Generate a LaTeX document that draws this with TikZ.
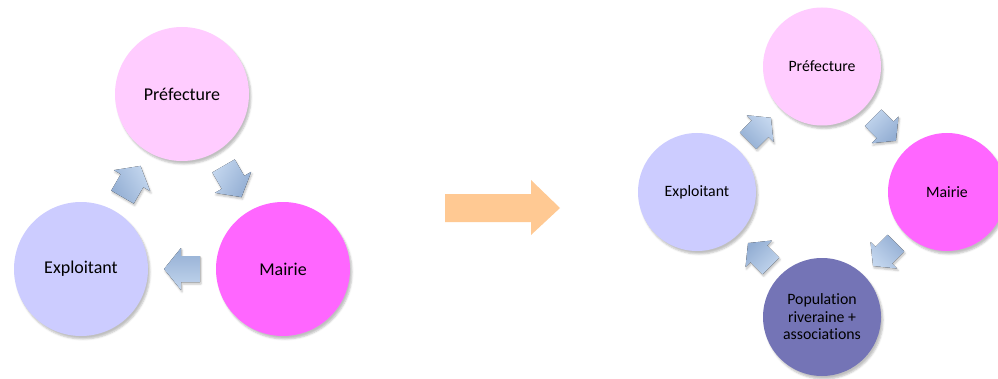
\documentclass[tikz,border=0pt]{standalone}
\usepackage{fontspec}
\setmainfont{Carlito}[Ligatures={TeX,NoCommon}]
\usetikzlibrary{calc,shadows.blur}

\definecolor{prefpink}{HTML}{FFCCFF}
\definecolor{exploilac}{HTML}{CCCCFF}
\definecolor{mairiemag}{HTML}{FF66FF}
\definecolor{popviolet}{HTML}{7474B6}
\definecolor{arrowtop}{HTML}{C3D6EE}
\definecolor{arrowbot}{HTML}{93AED3}
\definecolor{steporange}{HTML}{FFC993}

% block arrow of the cycle, #1 = its angle (keeps the gradient upright)
\tikzset{
  pics/cyclearrow/.style={code={
    \fill[blur shadow={shadow xshift=1pt, shadow yshift=-2pt, shadow opacity=25},
          top color=arrowtop, bottom color=arrowbot, shading angle=-#1]
      (-18,-13) -- (1,-13) -- (1,-21) -- (18,0) -- (1,21) -- (1,13) -- (-18,13) -- cycle;
  }}
}

% arrow halfway between two circles, pointing from #2 to #3
\newcommand\cycarrow[3][1]{%
  \path let \p1=($(#3)-(#2)$), \n1={atan2(\y1,\x1)} in
    ($(#2)!0.5!(#3)$) pic[rotate=\n1, scale=#1] {cyclearrow=\n1};
}

\begin{document}
\begin{tikzpicture}[
  x=1pt, y=1pt,
  actor/.style={circle, inner sep=0pt, align=center,
    blur shadow={shadow xshift=2pt, shadow yshift=-3pt, shadow opacity=25}},
  big/.style={actor, minimum size=134pt, font=\fontsize{18}{22}\selectfont},
  small/.style={actor, minimum size=118pt, font=\fontsize{15.8}{17.5}\selectfont}
]
\useasboundingbox (0,0) rectangle (998,378);

% before: three actors
\node[big, fill=prefpink] (pref1) at (182,284) {Préfecture};
\node[big, fill=exploilac] (expl1) at (81,109) {Exploitant};
\node[big, fill=mairiemag] (mair1) at (283,109) {Mairie};

\cycarrow{expl1}{pref1}
\cycarrow{pref1}{mair1}
\cycarrow{mair1}{expl1}

% step arrow
\fill[steporange] (445,156) -- (531,156) -- (531,143) -- (560,170)
  -- (531,198) -- (531,184) -- (445,184) -- cycle;

% after: the population joins the cycle
\node[small, fill=prefpink] (pref2) at (822,311.5) {Préfecture};
\node[small, fill=exploilac] (expl2) at (697,186) {Exploitant};
\node[small, fill=mairiemag] (mair2) at (947,186) {Mairie};
\node[small, fill=popviolet] (popu2) at (822,61) {Population\\riveraine +\\associations};

\cycarrow[0.9]{expl2}{pref2}
\cycarrow[0.9]{pref2}{mair2}
\cycarrow[0.9]{mair2}{popu2}
\cycarrow[0.9]{popu2}{expl2}

\end{tikzpicture}
\end{document}
